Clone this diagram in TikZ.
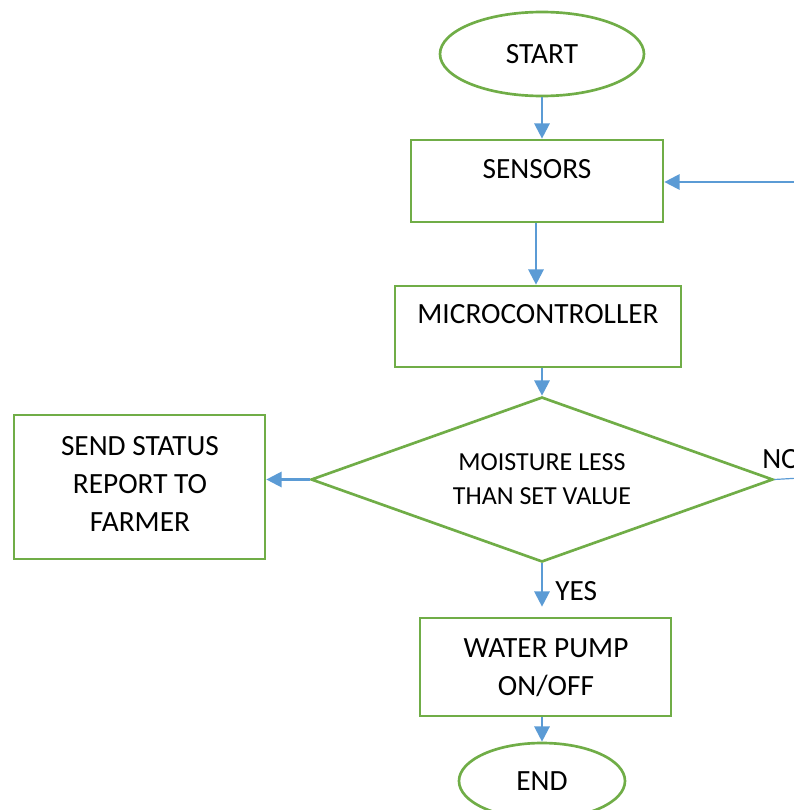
\documentclass[tikz,border=0pt]{standalone}
\usepackage{fontspec}
\setmainfont{Carlito}
\usetikzlibrary{shapes.geometric,arrows.meta,positioning}
\definecolor{boxgreen}{HTML}{70AD47}
\definecolor{flowblue}{HTML}{5B9BD5}

\begin{document}
\begin{tikzpicture}[x=0.75pt,y=-0.75pt,
    box/.style={draw=boxgreen, line width=2pt, rectangle, inner sep=0pt},
    oval/.style={draw=boxgreen, line width=2pt, ellipse, inner sep=0pt},
    decision/.style={draw=boxgreen, line width=2pt, diamond, aspect=2.8, inner sep=0pt, align=center,
      font=\fontsize{19.5}{25.5}\selectfont},
    txt/.style={font=\fontsize{22}{28.5}\selectfont, align=center, inner sep=0pt},
    flow/.style={draw=flowblue, line width=1.7pt, -{Triangle[length=11.5pt,width=11.5pt]}},
    thinflow/.style={draw=flowblue, line width=0.9pt}]
      \useasboundingbox (0,0) rectangle (793,810);

      \node[oval, minimum width=153pt, minimum height=63pt] (start) at (542,54) {};
      \node[txt] (starttxt) at (start.center) {START};

      \node[box, minimum width=189pt, minimum height=61.5pt] (sens) at (537,181) {};
      \node[txt] (senstxt) at ([yshift=-22.5pt]sens.north) {SENSORS};

      \node[box, minimum width=214.5pt, minimum height=60.75pt] (micro) at (538,326.5) {};
      \node[txt] (microtxt) at ([yshift=-21.75pt]micro.north) {MICROCONTROLLER};

      \node[decision, minimum width=346.5pt, minimum height=123.75pt] (dia) at (542,479.5)
        {MOISTURE LESS\\THAN SET VALUE};

      \node[box, minimum width=188.25pt, minimum height=108pt] (report) at (139.5,487) {};
      \node[txt] (reporttxt) at (140,484) {SEND STATUS\\REPORT TO\\FARMER};

      \node[box, minimum width=188.25pt, minimum height=73.5pt] (pump) at (545.5,667) {};
      \node[txt] (pumptxt) at (546,667.5) {WATER PUMP\\ON/OFF};

      \node[oval, minimum width=124.5pt, minimum height=57pt] (end) at (542,781) {};
      \node[txt] (endtxt) at (end.center) {END};

      \coordinate (loopin) at (800,182);
      \coordinate (noout) at (800,478);

      \draw[flow] (start.south) -- (sens.north -| start.south);
      \draw[flow] (sens.south -| 536,0) -- (micro.north -| 536,0);
      \draw[flow] (micro.south -| dia.north) -- (dia.north);
      \draw[flow] (dia.west) -- (report.east |- dia.west);
      \draw[flow] (dia.south) -- ([yshift=7.5pt]pump.north -| dia.south);
      \draw[flow] (pump.south -| end.north) -- (end.north);
      \draw[flow] (loopin) -- (sens.east |- loopin);
      \draw[thinflow] (dia.east) -- (noout);

      \node[txt, anchor=west] (yes) at (555,591) {YES};
      \node[txt, anchor=west] (no) at (762,459) {NO};
\end{tikzpicture}
\end{document}
